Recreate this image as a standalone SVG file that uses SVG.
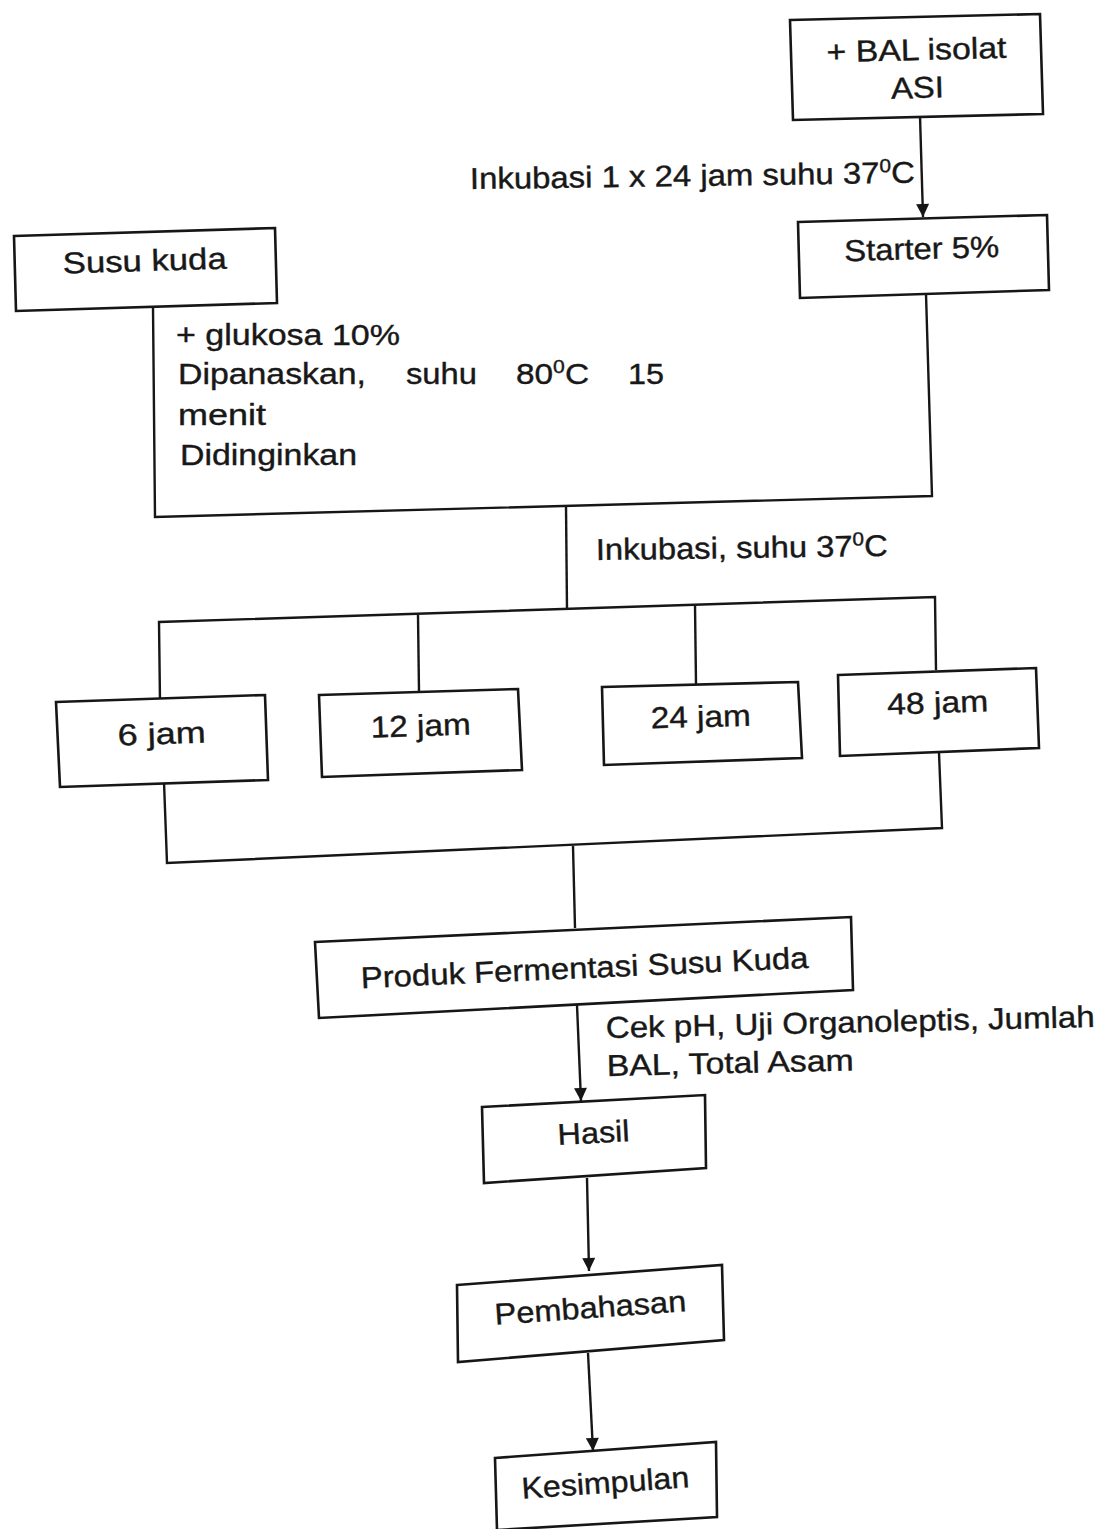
<svg xmlns="http://www.w3.org/2000/svg" width="1098" height="1529" viewBox="0 0 1098 1529">
<defs>
<style>
.box{fill:#fff;stroke:#161616;stroke-width:2.6;stroke-linejoin:miter}
.ln{fill:none;stroke:#161616;stroke-width:2.4}
.t{font-family:"Liberation Sans",Arial,sans-serif;font-size:30px;fill:#181818;stroke:#181818;stroke-width:0.4}
.c{text-anchor:middle}
</style>
<marker id="ah" viewBox="0 0 10 10" refX="10" refY="5" markerWidth="18" markerHeight="13" markerUnits="userSpaceOnUse" orient="auto">
<path d="M0,0 L10,5 L0,10 Z" fill="#161616"/>
</marker>
</defs>
<rect width="1098" height="1529" fill="#fff"/>

<g id="connectors">
<line class="ln" x1="920" y1="116" x2="923" y2="217" marker-end="url(#ah)"/>
<polyline class="ln" points="153,307 155,517 932,496 926,294"/>
<line class="ln" x1="566" y1="506" x2="567" y2="608"/>
<polyline class="ln" points="160,702 159,622 935,597 936,670"/>
<line class="ln" x1="418" y1="615" x2="419" y2="692"/>
<line class="ln" x1="695" y1="605" x2="696" y2="684"/>
<polyline class="ln" points="164,782 167,863 942,828 939,753"/>
<line class="ln" x1="573" y1="846" x2="575" y2="928"/>
<line class="ln" x1="577" y1="1005" x2="581" y2="1101" marker-end="url(#ah)"/>
<line class="ln" x1="587" y1="1178" x2="589" y2="1271" marker-end="url(#ah)"/>
<line class="ln" x1="588" y1="1353" x2="593" y2="1451" marker-end="url(#ah)"/>
</g>

<g id="lbl-inkubasi1">
<text class="t" x="470" y="189" textLength="445" lengthAdjust="spacingAndGlyphs" transform="rotate(-0.8 470 189)">Inkubasi 1 x 24 jam suhu 37<tspan dy="-11" font-size="19">0</tspan><tspan dy="11">C</tspan></text>
</g>
<g id="lbl-glukosa">
<text class="t" x="176" y="345" textLength="224" lengthAdjust="spacingAndGlyphs">+ glukosa 10%</text>
<text class="t" x="178" y="384" textLength="188" lengthAdjust="spacingAndGlyphs">Dipanaskan,</text>
<text class="t" x="406" y="384" textLength="71" lengthAdjust="spacingAndGlyphs">suhu</text>
<text class="t" x="516" y="384" textLength="73" lengthAdjust="spacingAndGlyphs">80<tspan dy="-11" font-size="19">0</tspan><tspan dy="11">C</tspan></text>
<text class="t" x="628" y="384" textLength="36" lengthAdjust="spacingAndGlyphs">15</text>
<text class="t" x="178" y="425" textLength="88" lengthAdjust="spacingAndGlyphs">menit</text>
<text class="t" x="180" y="465" textLength="177" lengthAdjust="spacingAndGlyphs">Didinginkan</text>
</g>
<g id="lbl-inkubasi2">
<text class="t" x="596" y="560" textLength="292" lengthAdjust="spacingAndGlyphs" transform="rotate(-0.8 596 560)">Inkubasi, suhu 37<tspan dy="-11" font-size="19">0</tspan><tspan dy="11">C</tspan></text>
</g>
<g id="lbl-cek">
<g transform="rotate(-1.3 606 1037)">
<text class="t" x="606" y="1038" textLength="489" lengthAdjust="spacingAndGlyphs">Cek pH, Uji Organoleptis, Jumlah</text>
<text class="t" x="606" y="1076" textLength="247" lengthAdjust="spacingAndGlyphs">BAL, Total Asam</text>
</g>
</g>

<g id="node-bal">
<polygon class="box" points="790,20 1040,14 1043,114 793,120"/>
<g transform="rotate(-1.4 917 70)">
<text class="t c" x="917" y="60" textLength="180" lengthAdjust="spacingAndGlyphs">+ BAL isolat</text>
<text class="t c" x="917" y="98" textLength="53" lengthAdjust="spacingAndGlyphs">ASI</text>
</g>
</g>
<g id="node-starter">
<polygon class="box" points="798,222 1047,215 1049,290 800,298"/>
<text class="t c" x="922" y="259" textLength="155" lengthAdjust="spacingAndGlyphs" transform="rotate(-1.6 922 259)">Starter 5%</text>
</g>
<g id="node-susu">
<polygon class="box" points="14,236 275,228 277,303 16,311"/>
<text class="t c" x="145" y="271" textLength="164" lengthAdjust="spacingAndGlyphs" transform="rotate(-1.7 145 271)">Susu kuda</text>
</g>
<g id="node-6">
<polygon class="box" points="56,702 265,695 268,780 60,787"/>
<text class="t c" x="162" y="744" textLength="88" lengthAdjust="spacingAndGlyphs" transform="rotate(-1.9 162 744)">6 jam</text>
</g>
<g id="node-12">
<polygon class="box" points="319,695 518,689 522,770 322,777"/>
<text class="t c" x="421" y="736" textLength="100" lengthAdjust="spacingAndGlyphs" transform="rotate(-1.7 421 736)">12 jam</text>
</g>
<g id="node-24">
<polygon class="box" points="602,687 798,682 802,758 604,765"/>
<text class="t c" x="701" y="727" textLength="100" lengthAdjust="spacingAndGlyphs" transform="rotate(-1.5 701 727)">24 jam</text>
</g>
<g id="node-48">
<polygon class="box" points="838,675 1036,668 1039,748 840,756"/>
<text class="t c" x="938" y="713" textLength="101" lengthAdjust="spacingAndGlyphs" transform="rotate(-2 938 713)">48 jam</text>
</g>
<g id="node-produk">
<polygon class="box" points="315,942 851,917 853,990 319,1018"/>
<text class="t c" x="585" y="978" textLength="448" lengthAdjust="spacingAndGlyphs" transform="rotate(-2.6 585 978)">Produk Fermentasi Susu Kuda</text>
</g>
<g id="node-hasil">
<polygon class="box" points="482,1107 705,1095 706,1168 484,1183"/>
<text class="t c" x="594" y="1143" textLength="72" lengthAdjust="spacingAndGlyphs" transform="rotate(-3 594 1143)">Hasil</text>
</g>
<g id="node-pembahasan">
<polygon class="box" points="457,1285 722,1265 724,1340 458,1362"/>
<text class="t c" x="591" y="1318" textLength="192" lengthAdjust="spacingAndGlyphs" transform="rotate(-4 591 1318)">Pembahasan</text>
</g>
<g id="node-kesimpulan">
<polygon class="box" points="495,1458 716,1442 717,1517 497,1530"/>
<text class="t c" x="606" y="1493" textLength="168" lengthAdjust="spacingAndGlyphs" transform="rotate(-4 606 1493)">Kesimpulan</text>
</g>
</svg>
